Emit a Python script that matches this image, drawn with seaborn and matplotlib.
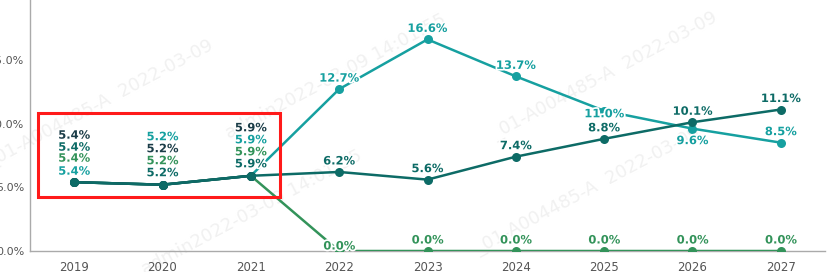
import matplotlib
matplotlib.use("Agg")
import matplotlib.pyplot as plt
import matplotlib.patheffects as pe
from matplotlib.patches import Rectangle
import seaborn as sns
import pandas as pd

years = ["2019", "2020", "2021", "2022", "2023", "2024", "2025", "2026", "2027"]
series_names = ["S4", "S1", "S2", "S3"]
s1 = [5.4, 5.2, 5.9, 6.2, 5.6, 7.4, 8.8, 10.1, 11.1]      # dark teal
s2 = [5.4, 5.2, 5.9, 12.7, 16.6, 13.7, 11.0, 9.6, 8.5]    # light teal
s3 = [5.4, 5.2, 5.9, 0.0, 0.0, 0.0, 0.0, 0.0, 0.0]        # green
s4 = [5.4, 5.2, 5.9, None, None, None, None, None, None]  # very dark
y_ticks = [0, 5, 10, 15]

colors = {"S4": "#1b3d48", "S1": "#0d6b66", "S2": "#16a0a0", "S3": "#33935a"}

rows = []
for name, vals in zip(series_names, [s4, s1, s2, s3]):
    for i, v in enumerate(vals):
        if v is not None:
            rows.append({"x": i, "value": v, "series": name})
df = pd.DataFrame(rows)

sns.set_theme(style="white")
plt.rcParams["font.family"] = ["DejaVu Sans"]

fig = plt.figure(figsize=(8.39, 2.72), dpi=100)
ax = fig.add_axes([30 / 839, 21 / 272, 795 / 839, 251 / 272])

# faint watermarks behind the data
wm = ["admin2022-03-09 14:01:55", "_01-A004485-A  2022-03-09"]
for (fx, fy, t) in [(0.12, 0.62, wm[1]), (0.40, 0.72, wm[0]), (0.72, 0.72, wm[1]),
                    (0.30, 0.22, wm[0]), (0.70, 0.30, wm[1])]:
    ax.text(fx, fy, t, rotation=28, fontsize=13, color="#f1f1f1", zorder=0.5,
            ha="center", va="center", transform=fig.transFigure, clip_on=False)

# draw order: green, light teal, very dark, dark teal on top
for name in ["S3", "S2", "S4", "S1"]:
    sub = df[df["series"] == name]
    sns.lineplot(data=sub, x="x", y="value", color=colors[name], marker="o",
                 markersize=6.5, markeredgewidth=0, linewidth=1.8, ax=ax,
                 legend=False, zorder=3)

# label offsets (pixels above marker), per series & index
default_off = 11
offsets = {
    ("S4", 0): 47, ("S1", 0): 35, ("S3", 0): 24, ("S2", 0): 11,
    ("S2", 1): 48, ("S4", 1): 36, ("S3", 1): 24, ("S1", 1): 12,
    ("S4", 2): 48, ("S2", 2): 36, ("S3", 2): 24, ("S1", 2): 12,
    ("S3", 3): 5, ("S2", 6): -3, ("S2", 7): -12,
}
for name, vals in zip(series_names, [s4, s1, s2, s3]):
    for i, v in enumerate(vals):
        if v is None:
            continue
        off = offsets.get((name, i), default_off)
        ax.annotate(f"{v:.1f}%", (i, v), xytext=(0, off * 72 / 100),
                    textcoords="offset points", ha="center", va="center",
                    fontsize=8.3, fontweight="bold", color=colors[name], zorder=5,
                    path_effects=[pe.withStroke(linewidth=2.5, foreground="white")])

# red highlight box
ax.add_patch(Rectangle((-0.41, 4.22), 2.74, 6.64, fill=False, edgecolor="#ff1a1a",
                       linewidth=2.2, zorder=6, clip_on=False))

ax.set_xlim(-0.5, 8.5)
ax.set_ylim(0, 19.69)
ax.set_xticks([i - 0.5 for i in range(len(years) + 1)])
ax.set_xticklabels([])
ax.set_xticks(range(len(years)), minor=True)
ax.set_xticklabels(years, minor=True)
ax.tick_params(axis="x", which="major", length=4, color="#aaaaaa", direction="out")
ax.tick_params(axis="x", which="minor", length=0, pad=7, labelsize=8.5, labelcolor="#555555")
ax.set_yticks(y_ticks)
ax.set_yticklabels([f"{t:.1f}%" for t in y_ticks])
ax.tick_params(axis="y", length=0, pad=4, labelsize=8, labelcolor="#555555")
ax.set_xlabel("")
ax.set_ylabel("")
for s in ["top", "right"]:
    ax.spines[s].set_visible(False)
for s in ["left", "bottom"]:
    ax.spines[s].set_color("#aaaaaa")
    ax.spines[s].set_linewidth(1)
ax.patch.set_alpha(0)
ax.grid(False)

fig.savefig("out.png", dpi=100)
